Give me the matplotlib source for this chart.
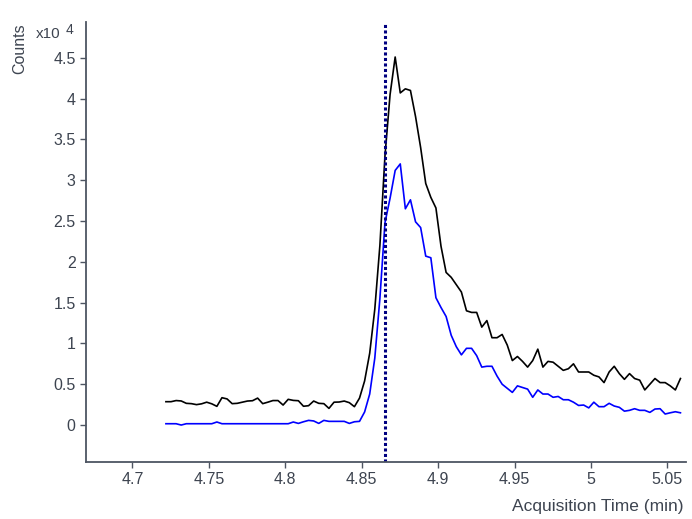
import numpy as np
import matplotlib
matplotlib.use('Agg')
import matplotlib.pyplot as plt

plt.rcParams['font.family'] = ['Liberation Sans', 'DejaVu Sans']

# acquisition grid (min), one scan every 0.2 s
t_start = 4.7219
t_step = 1.0 / 300.0

# counts in units of 1e4
black_counts = [
    0.286, 0.286, 0.300, 0.295, 0.266, 0.262, 0.250, 0.260, 0.280, 0.260,
    0.229, 0.335, 0.320, 0.262, 0.266, 0.280, 0.294, 0.298, 0.330, 0.262,
    0.280, 0.300, 0.300, 0.245, 0.315, 0.302, 0.298, 0.230, 0.237, 0.294,
    0.266, 0.262, 0.204, 0.280, 0.282, 0.294, 0.274, 0.225, 0.330, 0.540,
    0.880, 1.420, 2.200, 3.300, 4.050, 4.510, 4.070, 4.120, 4.100, 3.780,
    3.400, 2.960, 2.790, 2.660, 2.190, 1.870, 1.810, 1.720, 1.630, 1.400,
    1.380, 1.380, 1.200, 1.280, 1.070, 1.070, 1.110, 0.980, 0.790, 0.840,
    0.780, 0.710, 0.790, 0.930, 0.710, 0.780, 0.770, 0.720, 0.670, 0.690,
    0.750, 0.650, 0.650, 0.650, 0.610, 0.590, 0.520, 0.650, 0.720, 0.630,
    0.560, 0.630, 0.570, 0.550, 0.430, 0.500, 0.570, 0.520, 0.520, 0.480,
    0.430, 0.570,
]
blue_counts = [
    0.016, 0.016, 0.016, 0.000, 0.016, 0.016, 0.016, 0.016, 0.016, 0.016,
    0.037, 0.016, 0.016, 0.016, 0.016, 0.016, 0.016, 0.016, 0.016, 0.016,
    0.016, 0.016, 0.016, 0.016, 0.016, 0.037, 0.020, 0.040, 0.057, 0.050,
    0.020, 0.057, 0.045, 0.045, 0.045, 0.045, 0.020, 0.040, 0.045, 0.160,
    0.380, 0.820, 1.550, 2.480, 2.780, 3.120, 3.200, 2.650, 2.760, 2.490,
    2.420, 2.070, 2.050, 1.560, 1.440, 1.330, 1.100, 0.960, 0.860, 0.940,
    0.940, 0.850, 0.710, 0.720, 0.720, 0.600, 0.500, 0.450, 0.400, 0.480,
    0.460, 0.440, 0.340, 0.430, 0.380, 0.380, 0.340, 0.350, 0.310, 0.310,
    0.280, 0.240, 0.245, 0.210, 0.280, 0.225, 0.225, 0.266, 0.233, 0.217,
    0.170, 0.180, 0.200, 0.180, 0.180, 0.155, 0.196, 0.200, 0.135, 0.150,
    0.163, 0.150,
]
marker_time = 4.8655

x_ticks = [4.7, 4.75, 4.8, 4.85, 4.9, 4.95, 5.0, 5.05]
y_ticks = [0, 0.5, 1, 1.5, 2, 2.5, 3, 3.5, 4, 4.5]

times = t_start + t_step * np.arange(len(black_counts))

axis_col = '#4d5562'
text_col = '#3d4450'

fig = plt.figure(figsize=(6.92, 5.19), dpi=100)
ax = fig.add_axes([86/692, 1 - 462/519, 600/692, 440/519])

ax.plot(times, black_counts, color='black', lw=1.2)
ax.plot(times, blue_counts, color='#0000ff', lw=1.2)
ax.axvline(marker_time, color='#000080', lw=2.2, ls=(0, (1, 0.8)))

ax.set_xlim(4.6696, 5.0622)
ax.set_ylim(-0.453, 4.939)
ax.set_xticks(x_ticks)
ax.set_xticklabels(['%g' % v for v in x_ticks])
ax.set_yticks(y_ticks)
ax.set_yticklabels(['%g' % v for v in y_ticks])

for s in ['top', 'right']:
    ax.spines[s].set_visible(False)
for s in ['left', 'bottom']:
    ax.spines[s].set_color(axis_col)
    ax.spines[s].set_linewidth(1.3)
ax.tick_params(colors=axis_col, labelcolor=text_col, labelsize=11.5,
               length=4, width=1)

fig.text(20/692, 1 - 23/519, 'Counts', rotation=90, ha='center', va='top',
         fontsize=11.5, color=text_col)
fig.text(36/692, 1 - 34/519, 'x10', ha='left', va='center',
         fontsize=11, color=text_col)
fig.text(66/692, 1 - 30/519, '4', ha='left', va='center',
         fontsize=10, color=text_col)
fig.text(683/692, 1 - 507/519, 'Acquisition Time (min)', ha='right',
         va='center', fontsize=12.5, color=text_col)

fig.savefig('out.png', dpi=100)
